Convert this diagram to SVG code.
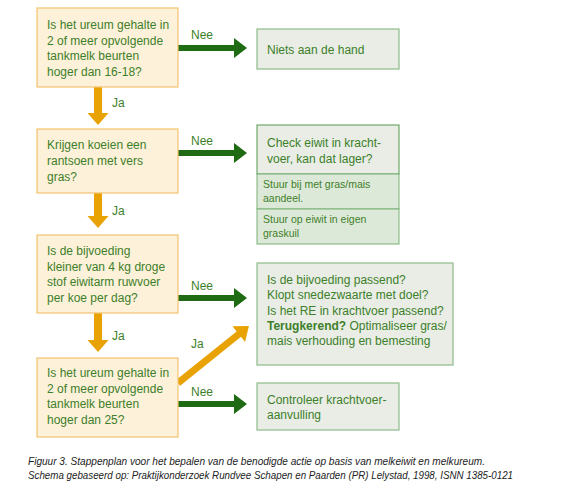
<svg xmlns="http://www.w3.org/2000/svg" width="586" height="494" viewBox="0 0 586 494">
<style>
.q{fill:#fdf1d9;stroke:#f3c46e;stroke-width:1.2}
.g{fill:#e9ede6;stroke:#8dba8a;stroke-width:1.2}
.gs{fill:#dde9d8;stroke:#7aaf76;stroke-width:1}
.t{font-family:"Liberation Sans",Arial,sans-serif;font-size:12px;fill:#3d7f2a}
.ts{font-family:"Liberation Sans",Arial,sans-serif;font-size:10.5px;fill:#3d7f2a}
.b{font-weight:bold}
.ga{fill:#1f6b14}
.oa{fill:#e8a204}
.cap{font-family:"Liberation Sans",Arial,sans-serif;font-size:10px;font-style:italic;fill:#222}
</style>
<rect width="586" height="494" fill="#ffffff"/>
<g id="connectors">
<polygon class="ga" points="178,45 234,45 234,38 247,48 234,58 234,51 178,51"/>
<polygon class="ga" points="178,150 234,150 234,143 247,153 234,163 234,156 178,156"/>
<polygon class="ga" points="178,295 234,295 234,288 247,298 234,308 234,301 178,301"/>
<polygon class="ga" points="178,401 234,401 234,394 247,404 234,414 234,407 178,407"/>
<polygon class="oa" points="94,87 102,87 102,113 108.5,113 98,125 87.5,113 94,113"/>
<polygon class="oa" points="94,193 102,193 102,216 108.5,216 98,228 87.5,216 94,216"/>
<polygon class="oa" points="94,313 102,313 102,340 108.5,340 98,352 87.5,340 94,340"/>
<polygon class="oa" transform="translate(178,383) rotate(-38.8)" points="0,-3.5 78,-3.5 78,-10 91,0 78,10 78,3.5 0,3.5"/>
<text class="t" x="191" y="39">Nee</text>
<text class="t" x="191" y="145">Nee</text>
<text class="t" x="191" y="290">Nee</text>
<text class="t" x="191" y="396">Nee</text>
<text class="t" x="112" y="107">Ja</text>
<text class="t" x="112" y="215">Ja</text>
<text class="t" x="112" y="340">Ja</text>
<text class="t" x="191" y="348">Ja</text>
</g>
<g id="q1">
<rect class="q" x="37" y="8" width="141" height="79"/>
<text class="t" x="47" y="29">Is het ureum gehalte in</text>
<text class="t" x="47" y="44.5">2 of meer opvolgende</text>
<text class="t" x="47" y="60">tankmelk beurten</text>
<text class="t" x="47" y="75.5">hoger dan 16-18?</text>
</g>
<g id="q2">
<rect class="q" x="37" y="129" width="141" height="64"/>
<text class="t" x="47" y="149">Krijgen koeien een</text>
<text class="t" x="47" y="165">rantsoen met vers</text>
<text class="t" x="47" y="181">gras?</text>
</g>
<g id="q3">
<rect class="q" x="37" y="235" width="141" height="78"/>
<text class="t" x="47" y="255">Is de bijvoeding</text>
<text class="t" x="47" y="270.5">kleiner van 4 kg droge</text>
<text class="t" x="47" y="286">stof eiwitarm ruwvoer</text>
<text class="t" x="47" y="301.5">per koe per dag?</text>
</g>
<g id="q4">
<rect class="q" x="37" y="358" width="141" height="79"/>
<text class="t" x="47" y="377">Is het ureum gehalte in</text>
<text class="t" x="47" y="392.5">2 of meer opvolgende</text>
<text class="t" x="47" y="408">tankmelk beurten</text>
<text class="t" x="47" y="423.5">hoger dan 25?</text>
</g>
<g id="a1">
<rect class="g" x="257" y="29" width="142" height="40"/>
<text class="t" x="267" y="54">Niets aan de hand</text>
</g>
<g id="a2">
<rect class="g" x="257" y="125" width="142" height="49" style="stroke:#6fa86b"/>
<rect class="gs" x="257" y="174" width="142" height="35"/>
<rect class="gs" x="257" y="209" width="142" height="35"/>
<text class="t" x="267" y="147">Check eiwit in kracht-</text>
<text class="t" x="267" y="162.5">voer, kan dat lager?</text>
<text class="ts" x="263" y="187.5">Stuur bij met gras/mais</text>
<text class="ts" x="263" y="201.5">aandeel.</text>
<text class="ts" x="263" y="222.5">Stuur op eiwit in eigen</text>
<text class="ts" x="263" y="236.5">graskuil</text>
</g>
<g id="a3">
<rect class="g" x="257" y="263" width="196" height="102"/>
<text class="t" x="267" y="284">Is de bijvoeding passend?</text>
<text class="t" x="267" y="299.3">Klopt snedezwaarte met doel?</text>
<text class="t" x="267" y="314.6">Is het RE in krachtvoer passend?</text>
<text class="t" x="267" y="330"><tspan class="b">Terugkerend?</tspan> Optimaliseer gras/</text>
<text class="t" x="267" y="345">mais verhouding en bemesting</text>
</g>
<g id="a4">
<rect class="g" x="257" y="383" width="142" height="47"/>
<text class="t" x="267" y="404">Controleer krachtvoer-</text>
<text class="t" x="267" y="419">aanvulling</text>
</g>
<g id="caption">
<text class="cap" x="28" y="465" textLength="457" lengthAdjust="spacingAndGlyphs">Figuur 3. Stappenplan voor het bepalen van de benodigde actie op basis van melkeiwit en melkureum.</text>
<text class="cap" x="28" y="479" textLength="485" lengthAdjust="spacingAndGlyphs">Schema gebaseerd op: Praktijkonderzoek Rundvee Schapen en Paarden (PR) Lelystad, 1998, ISNN 1385-0121</text>
</g>
</svg>
